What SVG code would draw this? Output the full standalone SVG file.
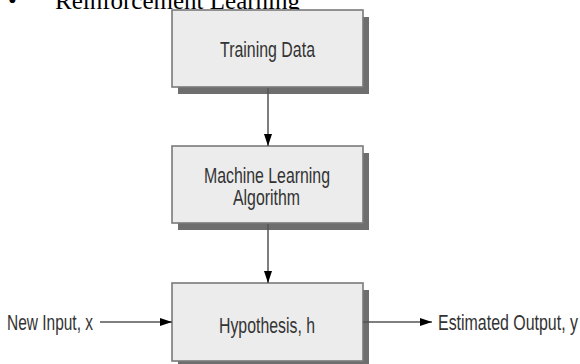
<svg xmlns="http://www.w3.org/2000/svg" width="580" height="364" viewBox="0 0 580 364">
<defs>
<style>
.box{fill:#ececec;stroke:#7a7a7a;stroke-width:1.6}
.shadow{fill:#6e6e6e}
.lbl{font-family:"Liberation Sans",Arial,sans-serif;font-size:22px;fill:#333}
.edge{stroke:#555;stroke-width:1.5;fill:none}
.top{font-family:"Liberation Serif","Times New Roman",serif;font-size:25px;fill:#000}
</style>
<marker id="ah" viewBox="0 0 12 8" refX="12" refY="4" markerWidth="12" markerHeight="8" markerUnits="userSpaceOnUse" orient="auto">
<path d="M0,0 L12,4 L0,8 Z" fill="#000"/>
</marker>
</defs>
<rect width="580" height="364" fill="#fff"/>
<text class="top" x="8" y="9">•</text>
<text class="top" x="55" y="9">Reinforcement Learning</text>
<g id="training">
<rect class="shadow" x="178" y="17" width="191" height="77"/>
<rect class="box" x="172" y="10" width="191" height="77"/>
<text class="lbl" x="220" y="57" textLength="95" lengthAdjust="spacingAndGlyphs">Training Data</text>
</g>
<g id="algorithm">
<rect class="shadow" x="178" y="153" width="191" height="77"/>
<rect class="box" x="172" y="146" width="191" height="77"/>
<text class="lbl" x="204" y="183" textLength="126" lengthAdjust="spacingAndGlyphs">Machine Learning</text>
<text class="lbl" x="233" y="205" textLength="67" lengthAdjust="spacingAndGlyphs">Algorithm</text>
</g>
<g id="hypothesis">
<rect class="shadow" x="178" y="290" width="191" height="77"/>
<rect class="box" x="172" y="283" width="191" height="78"/>
<text class="lbl" x="219" y="333" textLength="96" lengthAdjust="spacingAndGlyphs">Hypothesis, h</text>
</g>
<g id="input">
<text class="lbl" x="7" y="330" textLength="86" lengthAdjust="spacingAndGlyphs">New Input, x</text>
</g>
<g id="output">
<text class="lbl" x="438" y="330" textLength="140" lengthAdjust="spacingAndGlyphs">Estimated Output, y</text>
</g>
<g id="connectors">
<line class="edge" x1="268" y1="88" x2="268" y2="146" marker-end="url(#ah)"/>
<line class="edge" x1="268" y1="224" x2="268" y2="283" marker-end="url(#ah)"/>
<line class="edge" x1="100" y1="322" x2="172" y2="322" marker-end="url(#ah)"/>
<line class="edge" x1="363" y1="322" x2="432" y2="322" marker-end="url(#ah)"/>
</g>
</svg>
